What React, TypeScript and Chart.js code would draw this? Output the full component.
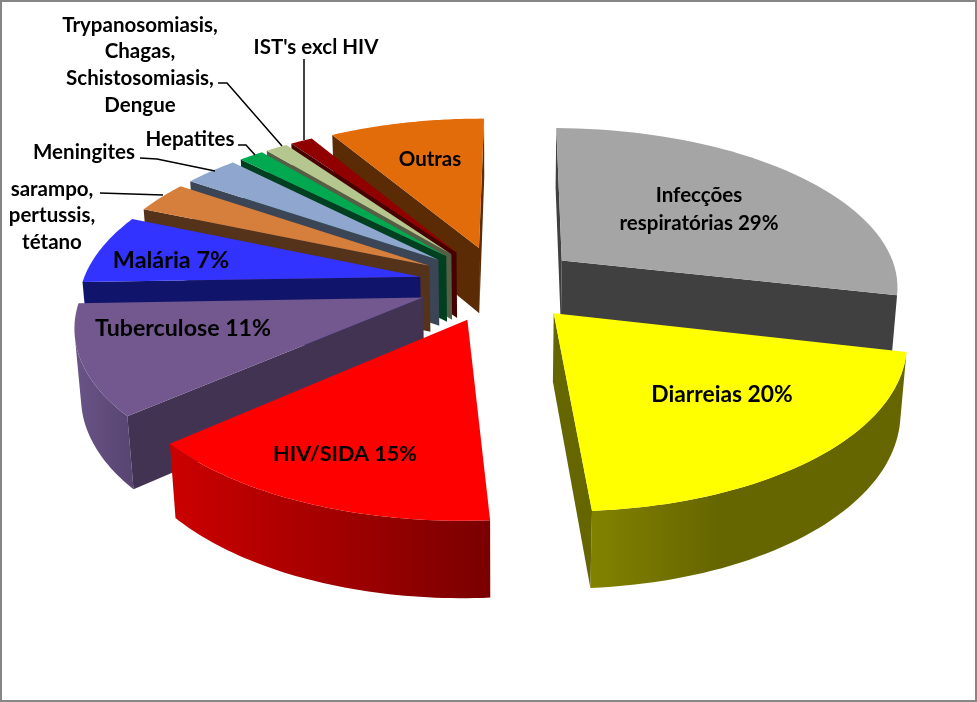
import React, { useEffect, useRef } from "react";
import { Chart, registerables } from "chart.js";

Chart.register(...registerables);

// ---- data ----
const categories = [
  "Infecções respiratórias",
  "Diarreias",
  "HIV/SIDA",
  "Tuberculose",
  "Malária",
  "sarampo, pertussis, tétano",
  "Meningites",
  "Hepatites",
  "Trypanosomiasis, Chagas, Schistosomiasis, Dengue",
  "IST's excl HIV",
  "Outras",
];
const shares = [28.4, 20.3, 14.7, 10.83, 6.89, 3.11, 3.06, 1.39, 1.25, 1.25, 8.7];
const labelLines = [
  ["Infecções", "respiratórias 29%"],
  ["Diarreias 20%"],
  ["HIV/SIDA 15%"],
  ["Tuberculose 11%"],
  ["Malária 7%"],
  ["sarampo,", "pertussis,", "tétano"],
  ["Meningites"],
  ["Hepatites"],
  ["Trypanosomiasis,", "Chagas,", "Schistosomiasis,", "Dengue"],
  ["IST's excl HIV"],
  ["Outras"],
];

// ---- styles ----
const topColors = ["#a5a5a5", "#ffff00", "#ff0000", "#72588f", "#3333ff", "#d67f3c", "#8fa7cf", "#00a850", "#b5c78f", "#900000", "#e26b0a"];
const cutColors = ["#404040", "#666600", "#800000", "#423353", "#10146a", "#55321a", "#3b4556", "#004020", "#555f45", "#470000", "#5a2b05"];
const rimStops: [string, string, number][] = [
  ["#5a5a5a", "#5a5a5a", 1],
  ["#828200", "#666600", 0.4],
  ["#cc0000", "#7a0000", 1],
  ["#6a5488", "#574470", 1],
  ["#1a1f8c", "#1a1f8c", 1],
  ["#80491f", "#80491f", 1],
  ["#566478", "#566478", 1],
  ["#006030", "#006030", 1],
  ["#6c7756", "#6c7756", 1],
  ["#560000", "#560000", 1],
  ["#884006", "#884006", 1],
];
const labelLayout: { x: number; y: number; size: number; gap: number }[] = [
  { x: 699, y: 195, size: 20.5, gap: 28 },
  { x: 722, y: 395, size: 22.8, gap: 0 },
  { x: 345, y: 454, size: 21.6, gap: 0 },
  { x: 183, y: 329, size: 23.2, gap: 0 },
  { x: 171, y: 260, size: 23.4, gap: 0 },
  { x: 52, y: 189, size: 20.5, gap: 26.5 },
  { x: 84, y: 152, size: 20.5, gap: 0 },
  { x: 190, y: 139, size: 20.5, gap: 0 },
  { x: 140, y: 25, size: 20.5, gap: 26.8 },
  { x: 316, y: 47, size: 20.5, gap: 0 },
  { x: 430, y: 159, size: 20.5, gap: 0 },
];
const leaders: [number, number][][] = [
  [[100, 193], [163, 195]],
  [[140, 158], [157, 159], [215, 171]],
  [[238, 145], [246, 145], [255, 155]],
  [[218, 83], [227, 83], [282, 146]],
  [[304, 59], [304, 140]],
];

// ---- perspective ----
const CX = 499.5, CY = 283.5, RX = 338, RY = 158.6, PERSP = 0.15, SINK = 0.015, DEPTH = 68, EXPLODE = 0.24;
const project = (u: number, v: number, z: number): [number, number] => {
  const w = 1 - PERSP * v + SINK * z;
  return [CX + (RX * u) / w, CY + (RY * v + DEPTH * z) / w];
};
const shoelace = (p: [number, number][]) => {
  let s = 0;
  p.forEach((a, i) => {
    const b = p[(i + 1) % p.length];
    s += a[0] * b[1] - b[0] * a[1];
  });
  return s;
};
const fillPoly = (ctx: CanvasRenderingContext2D, p: [number, number][], fill: string | CanvasGradient) => {
  ctx.beginPath();
  p.forEach((q, i) => (i ? ctx.lineTo(q[0], q[1]) : ctx.moveTo(q[0], q[1])));
  ctx.closePath();
  ctx.fillStyle = fill;
  ctx.fill();
};

const pie3d = {
  id: "pie3d",
  beforeDraw(chart: any) {
    const { ctx, width, height } = chart;
    ctx.save();
    ctx.fillStyle = "#ffffff";
    ctx.fillRect(0, 0, width, height);
    ctx.strokeStyle = "#868686";
    ctx.lineWidth = 2;
    ctx.strokeRect(1, 1, width - 2, height - 2);
    ctx.restore();
  },
  beforeDatasetsDraw(chart: any) {
    const { ctx } = chart;
    const arcs = chart.getDatasetMeta(0).data as any[];
    const order = arcs
      .map((a, i) => ({ i, mid: (a.startAngle + a.endAngle) / 2 }))
      .sort((a, b) => Math.sin(a.mid) - Math.sin(b.mid));
    ctx.save();
    for (const { i, mid } of order) {
      const a = arcs[i];
      const ox = EXPLODE * Math.cos(mid), oy = EXPLODE * Math.sin(mid);
      const n = 48;
      const rimTop: [number, number][] = [], rimBot: [number, number][] = [];
      for (let k = 0; k <= n; k++) {
        const t = a.startAngle + ((a.endAngle - a.startAngle) * k) / n;
        const u = ox + Math.cos(t), v = oy + Math.sin(t);
        rimTop.push(project(u, v, 0));
        rimBot.push(project(u, v, 1));
      }
      const apexTop = project(ox, oy, 0), apexBot = project(ox, oy, 1);

      // outer wall: only the part that faces the viewer
      const top: [number, number][] = [], bot: [number, number][] = [];
      for (let k = 0; k < n; k++) {
        if (shoelace([rimTop[k], rimTop[k + 1], rimBot[k + 1], rimBot[k]]) < 0) {
          if (!top.length) { top.push(rimTop[k]); bot.push(rimBot[k]); }
          top.push(rimTop[k + 1]);
          bot.push(rimBot[k + 1]);
        }
      }
      if (top.length) {
        const xs = [...top, ...bot].map((p) => p[0]);
        const x0 = Math.min(...xs), x1 = Math.max(...xs);
        const [c0, c1, stop] = rimStops[i];
        const g = ctx.createLinearGradient(x0, 0, x1, 0);
        g.addColorStop(0, c0);
        g.addColorStop(stop, c1);
        g.addColorStop(1, c1);
        fillPoly(ctx, [...top, ...bot.reverse()], g);
      }

      // cut faces
      const startWall: [number, number][] = [apexTop, rimTop[0], rimBot[0], apexBot];
      const endWall: [number, number][] = [apexTop, rimTop[n], rimBot[n], apexBot];
      if (shoelace(startWall) < 0) fillPoly(ctx, startWall, cutColors[i]);
      if (shoelace(endWall) > 0) fillPoly(ctx, endWall, cutColors[i]);

      // top face
      fillPoly(ctx, [apexTop, ...rimTop], topColors[i]);
    }
    ctx.restore();
    return false;
  },
  afterDraw(chart: any) {
    const { ctx } = chart;
    ctx.save();
    ctx.strokeStyle = "#000000";
    ctx.lineWidth = 1.5;
    for (const line of leaders) {
      ctx.beginPath();
      line.forEach((p, i) => (i ? ctx.lineTo(p[0], p[1]) : ctx.moveTo(p[0], p[1])));
      ctx.stroke();
    }
    ctx.fillStyle = "#000000";
    ctx.textAlign = "center";
    ctx.textBaseline = "middle";
    labelLines.forEach((lines, i) => {
      const l = labelLayout[i];
      ctx.font = `bold ${l.size}px Lato`;
      lines.forEach((s, k) => ctx.fillText(s, l.x, l.y + k * l.gap));
    });
    ctx.restore();
  },
};

export default function App() {
  const ref = useRef<HTMLCanvasElement>(null);
  useEffect(() => {
    const chart = new Chart(ref.current!, {
      type: "pie",
      data: {
        labels: categories,
        datasets: [{ data: shares, backgroundColor: topColors, borderWidth: 0 }],
      },
      options: {
        responsive: false,
        animation: false,
        rotation: 0.5,
        plugins: { legend: { display: false }, tooltip: { enabled: false } },
      },
      plugins: [pie3d as any],
    });
    return () => chart.destroy();
  }, []);
  return (
    <div style={{ position: "fixed", left: 0, top: 0, width: 977, height: 702 }}>
      <canvas ref={ref} width={977} height={702} style={{ display: "block" }} />
    </div>
  );
}
